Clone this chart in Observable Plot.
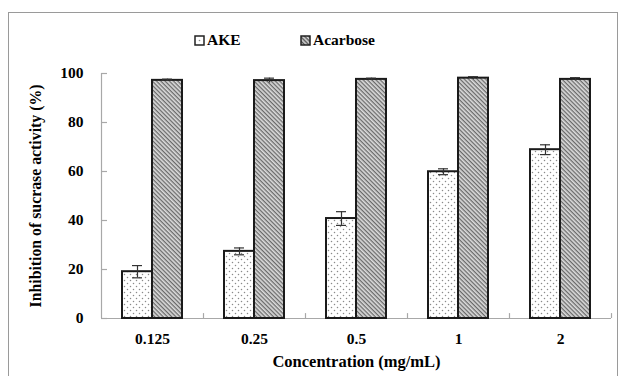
<!DOCTYPE html>
<html>
<head>
<meta charset="utf-8">
<script src="https://cdn.jsdelivr.net/npm/d3@7"></script>
<script src="https://cdn.jsdelivr.net/npm/@observablehq/plot@0.6"></script>
<style>
  body { margin: 0; background: #fff; }
  #wrap { position: relative; width: 622px; height: 376px; overflow: hidden; font-family: "Times New Roman", "Liberation Serif", "Tinos", "DejaVu Serif", serif; }
  #frame { position: absolute; left: 8px; top: 12px; width: 610px; height: 380px; border: 1.5px solid #9a9a9a; box-sizing: border-box; }
  #legend { position: absolute; top: 31px; left: 0; width: 622px; font-weight: bold; font-size: 15.5px; color: #000; }
  .item { position: absolute; display: flex; align-items: center; }
  #ytitle { position: absolute; left: 36px; top: 196px; transform: translate(-50%, -50%) rotate(-90deg); white-space: nowrap; font-weight: bold; font-size: 15.8px; }
  #chart { position: absolute; left: 0; top: 0; }
</style>
</head>
<body>
<div id="wrap">
  <div id="frame"></div>
  <div id="legend">
    <div class="item" style="left:194px"><svg width="11" height="11" style="margin-right:2px"><rect x="1" y="1" width="9" height="9" fill="#fff" stroke="#222" stroke-width="1.5"/><circle cx="5.5" cy="5.5" r="0.8" fill="#888"/></svg><span>AKE</span></div>
    <div class="item" style="left:300px"><svg width="11" height="11" style="margin-right:2px"><rect x="1" y="1" width="9" height="9" fill="url(#hatchL)" stroke="#222" stroke-width="1.5"/></svg><span>Acarbose</span></div>
  </div>
  <div id="ytitle">Inhibition of sucrase activity (%)</div>
  <div id="chart"></div>
</div>
<script>
const concentrations = ["0.125", "0.25", "0.5", "1", "2"];
const akeValues = [19.1, 27.4, 40.8, 59.9, 68.9];
const akeErrors = [2.5, 1.4, 2.8, 1.2, 2.0];
const acarboseValues = [97.2, 97.1, 97.6, 98.1, 97.6];
const acarboseErrors = [0.5, 1.0, 0.5, 0.6, 0.7];
const yTicks = [0, 20, 40, 60, 80, 100];

const ake = concentrations.map((c, i) => ({conc: c, v: akeValues[i], e: akeErrors[i]}));
const aca = concentrations.map((c, i) => ({conc: c, v: acarboseValues[i], e: acarboseErrors[i]}));

const axisGray = "#a8a8a8";
const serif = "'Times New Roman', 'Liberation Serif', 'Tinos', 'DejaVu Serif', serif";

const plot = Plot.plot({
  width: 622,
  height: 376,
  marginLeft: 101,
  marginRight: 11,
  marginTop: 73,
  marginBottom: 58,
  style: {fontFamily: serif, fontWeight: "bold", fontSize: "15px", color: "#000", background: "transparent"},
  x: {domain: concentrations, padding: 0, axis: null},
  y: {domain: [0, 100], axis: null},
  marks: [
    Plot.ruleY([0], {stroke: axisGray, strokeWidth: 1.2}),
    Plot.ruleX([concentrations[0]], {dx: -51, stroke: axisGray, strokeWidth: 1.2}),
    Plot.tickY(yTicks, {y: d => d, x: () => concentrations[0], insetRight: 96, stroke: axisGray, strokeWidth: 1.2}),
    Plot.ruleX(concentrations.slice(1), {x: d => d, dx: -51, y1: 0, y2: 2, stroke: axisGray, strokeWidth: 1.2}),
    Plot.ruleX([concentrations[concentrations.length - 1]], {dx: 51, y1: 0, y2: 2, stroke: axisGray, strokeWidth: 1.2}),
    Plot.barY(ake, {x: "conc", y: "v", insetLeft: 21, insetRight: 51, fill: "url(#dots)", stroke: "#1a1a1a", strokeWidth: 2}),
    Plot.barY(aca, {x: "conc", y: "v", insetLeft: 51, insetRight: 21, fill: "url(#hatch)", stroke: "#1a1a1a", strokeWidth: 2}),
    Plot.ruleX(ake, {x: "conc", y1: d => d.v - d.e, y2: d => d.v + d.e, dx: -15, stroke: "#333", strokeWidth: 1.2}),
    Plot.tickY(ake, {x: "conc", y: d => d.v + d.e, dx: -15, insetLeft: 46, insetRight: 46, stroke: "#333", strokeWidth: 1.2}),
    Plot.tickY(ake, {x: "conc", y: d => d.v - d.e, dx: -15, insetLeft: 46, insetRight: 46, stroke: "#333", strokeWidth: 1.2}),
    Plot.ruleX(aca, {x: "conc", y1: d => d.v - d.e, y2: d => d.v + d.e, dx: 15, stroke: "#333", strokeWidth: 1.2}),
    Plot.tickY(aca, {x: "conc", y: d => d.v + d.e, dx: 15, insetLeft: 46, insetRight: 46, stroke: "#333", strokeWidth: 1.2}),
    Plot.axisY(yTicks, {tickSize: 0, tickPadding: 18, label: null, fontWeight: "bold", fontSize: 15.5}),
    Plot.axisX({tickSize: 0, tickPadding: 14, label: null, fontWeight: "bold", fontSize: 15.5}),
    Plot.text(["Concentration (mg/mL)"], {frameAnchor: "bottom", dy: 48, fontWeight: "bold", fontSize: 16.5, text: d => d})
  ]
});

const ns = "http://www.w3.org/2000/svg";
const defs = document.createElementNS(ns, "defs");
defs.innerHTML = `
  <pattern id="dots" width="6" height="6" patternUnits="userSpaceOnUse">
    <rect width="6" height="6" fill="#fff"/>
    <circle cx="1.5" cy="1.5" r="0.75" fill="#8a8a8a"/>
    <circle cx="4.5" cy="4.5" r="0.75" fill="#8a8a8a"/>
  </pattern>
  <pattern id="hatch" width="3" height="3" patternUnits="userSpaceOnUse" patternTransform="rotate(45)">
    <rect width="3" height="3" fill="#dcdcdc"/>
    <rect width="3" height="1.3" fill="#6a6a6a"/>
  </pattern>`;
plot.insertBefore(defs, plot.firstChild);
document.getElementById("chart").appendChild(plot);

const lsvg = document.querySelector("#legend .item:nth-child(2) svg");
const ldefs = document.createElementNS(ns, "defs");
ldefs.innerHTML = `<pattern id="hatchL" width="3" height="3" patternUnits="userSpaceOnUse" patternTransform="rotate(45)">
    <rect width="3" height="3" fill="#d8d8d8"/><rect width="3" height="1.4" fill="#555"/></pattern>`;
lsvg.insertBefore(ldefs, lsvg.firstChild);
</script>
</body>
</html>
